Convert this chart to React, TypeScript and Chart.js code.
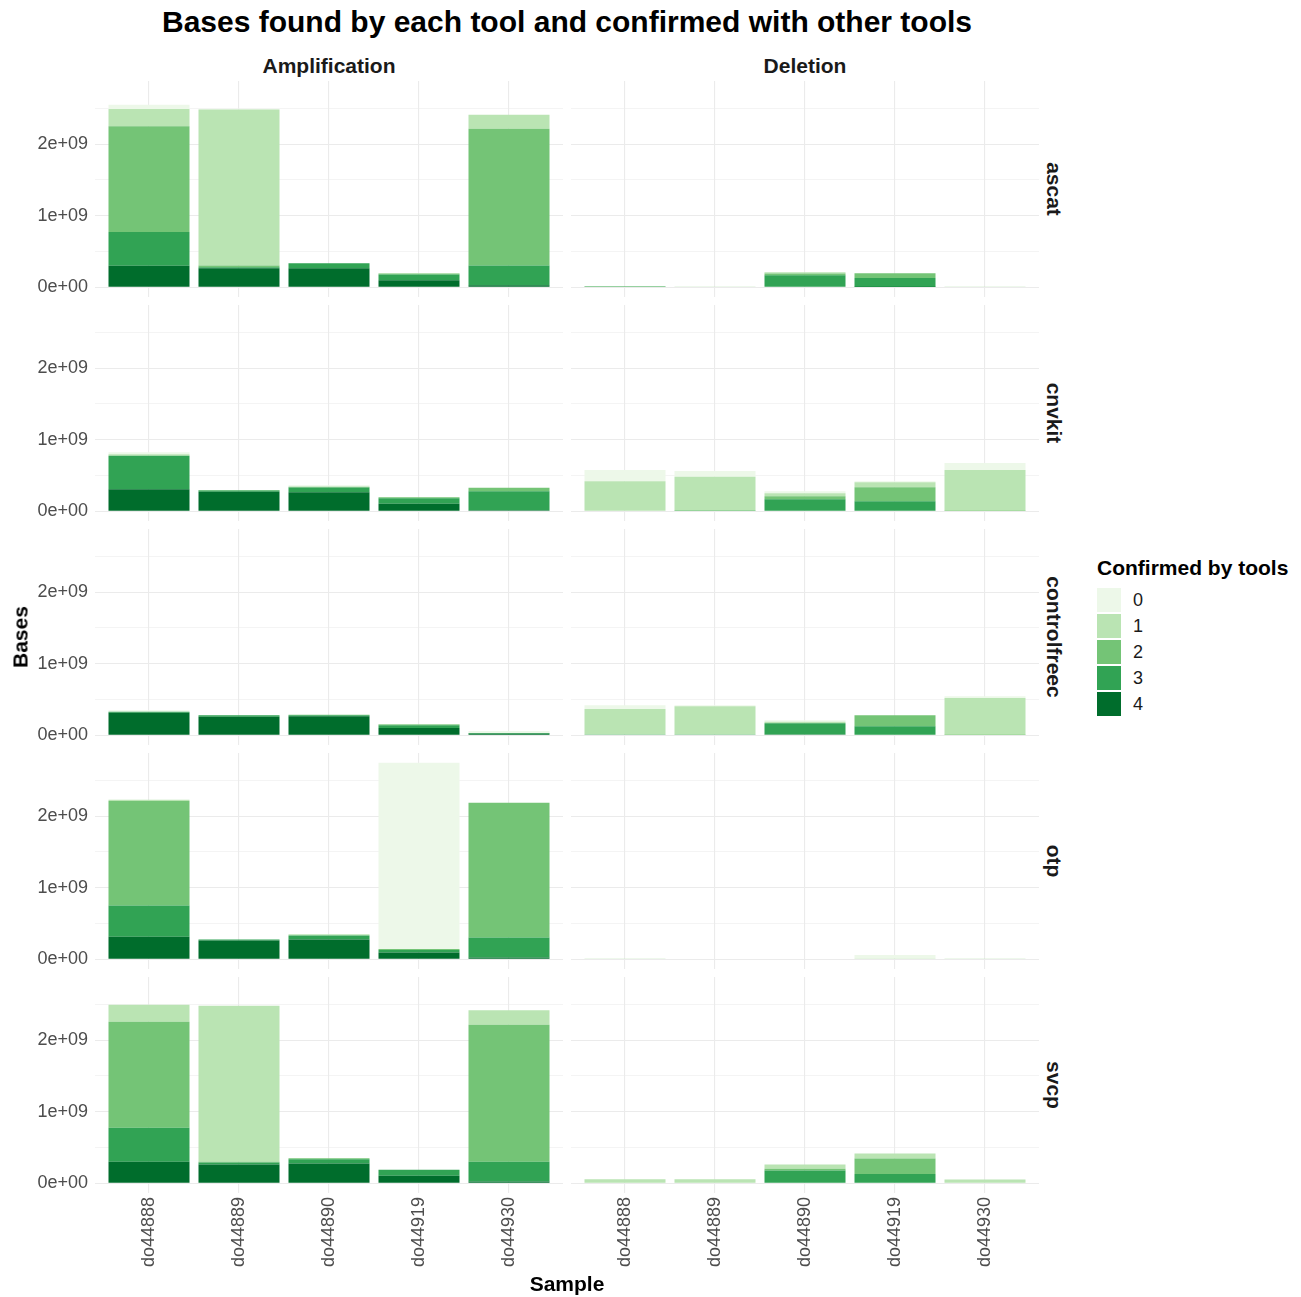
import React, { useEffect, useRef } from "react";
import { Chart, registerables } from "chart.js";

Chart.register(...registerables);

const FONT = "'Liberation Sans', Arial, Helvetica, sans-serif";

// ---------------- data (values in billions of bases, i.e. x 1e9) ----------------
const samples = ["do44888", "do44889", "do44890", "do44919", "do44930"];
const tools = ["ascat", "cnvkit", "controlfreec", "otp", "svcp"];
const eventTypes = ["Amplification", "Deletion"];
const confirmLevels = ["0", "1", "2", "3", "4"];
const levelColors = ["#edf8e9", "#bae4b3", "#74c476", "#31a354", "#006d2c"];
const UNIT = 1e9;

// each matrix: rows = confirmed by 0,1,2,3,4 tools ; columns = samples
const ascatAmplification = [
  [0.06, 0.01, 0, 0, 0],
  [0.24, 2.18, 0, 0.01, 0.196],
  [1.48, 0.024, 0, 0.01, 1.91],
  [0.47, 0.014, 0.07, 0.08, 0.276],
  [0.3, 0.266, 0.266, 0.098, 0.028],
];
const ascatDeletion = [
  [0, 0, 0, 0, 0],
  [0, 0.002, 0.02, 0, 0.008],
  [0.004, 0.006, 0.022, 0.065, 0],
  [0.004, 0, 0.162, 0.126, 0],
  [0, 0, 0.006, 0.002, 0],
];
const cnvkitAmplification = [
  [0.028, 0, 0.022, 0, 0],
  [0.02, 0, 0, 0, 0],
  [0, 0.006, 0.01, 0.014, 0.047],
  [0.468, 0.02, 0.066, 0.079, 0.266],
  [0.308, 0.27, 0.266, 0.103, 0.014],
];
const cnvkitDeletion = [
  [0.155, 0.08, 0.028, 0.014, 0.098],
  [0.415, 0.477, 0.042, 0.07, 0.571],
  [0, 0, 0.042, 0.196, 0.004],
  [0.005, 0.004, 0.163, 0.14, 0],
  [0, 0, 0.005, 0, 0],
];
const controlfreecAmplification = [
  [0.023, 0, 0, 0, 0.03],
  [0, 0, 0, 0.008, 0],
  [0, 0, 0.005, 0.01, 0],
  [0.014, 0.023, 0.014, 0.038, 0.01],
  [0.312, 0.256, 0.265, 0.102, 0.02],
];
const controlfreecDeletion = [
  [0.052, 0.014, 0.023, 0, 0.023],
  [0.357, 0.395, 0.019, 0, 0.518],
  [0, 0, 0, 0.153, 0.003],
  [0.01, 0.01, 0.157, 0.126, 0],
  [0, 0, 0.01, 0, 0],
];
const otpAmplification = [
  [0, 0, 0, 2.6, 0],
  [0.019, 0, 0.019, 0, 0],
  [1.46, 0, 0, 0.014, 1.884],
  [0.437, 0.014, 0.056, 0.037, 0.279],
  [0.312, 0.26, 0.274, 0.093, 0.023],
];
const otpDeletion = [
  [0, 0, 0, 0.05, 0],
  [0.01, 0.007, 0.007, 0.01, 0.01],
  [0, 0, 0, 0, 0],
  [0, 0, 0, 0, 0],
  [0, 0, 0, 0, 0],
];
const svcpAmplification = [
  [0, 0, 0, 0, 0],
  [0.238, 2.182, 0, 0, 0.201],
  [1.482, 0.009, 0.014, 0, 1.916],
  [0.476, 0.028, 0.061, 0.083, 0.275],
  [0.298, 0.261, 0.275, 0.103, 0.023],
];
const svcpDeletion = [
  [0, 0, 0, 0, 0],
  [0.05, 0.05, 0.06, 0.07, 0.05],
  [0.005, 0.005, 0.023, 0.215, 0],
  [0, 0, 0.177, 0.13, 0],
  [0, 0, 0, 0, 0],
];

const panelData = [
  [ascatAmplification, ascatDeletion],
  [cnvkitAmplification, cnvkitDeletion],
  [controlfreecAmplification, controlfreecDeletion],
  [otpAmplification, otpDeletion],
  [svcpAmplification, svcpDeletion],
];

// ---------------- layout ----------------
const PANEL_W = 468;
const PANEL_H = 216;
const ROW_STEP = 224;
const FIRST_TOP = 81;
const COL_LEFT = [95, 571];
const Y_AXIS_W = 95;
const X_AXIS_H = 100;

const GRID = "#ebebeb";
const TICK_COLOR = "#4d4d4d";

// shared y range (ggplot-like 5% expansion), in billions
let maxTotal = 0;
panelData.forEach((row) =>
  row.forEach((m) =>
    samples.forEach((_, s) => {
      const t = m.reduce((acc, lv) => acc + lv[s], 0);
      if (t > maxTotal) maxTotal = t;
    })
  )
);
const Y_MIN = -maxTotal * 0.05;
const Y_MAX = maxTotal * 1.05;

function sci(v: number): string {
  if (Math.abs(v) < 1e-9) return "0e+00";
  const [m, e] = v.toExponential(0).split("e");
  const ei = parseInt(e, 10);
  return `${m}e${ei < 0 ? "-" : "+"}${String(Math.abs(ei)).padStart(2, "0")}`;
}
const isWhole = (v: number) => Math.abs(v - Math.round(v)) < 1e-6;

function Panel({ matrix, showY, showX, left, top }: any) {
  const ref = useRef<HTMLCanvasElement | null>(null);
  const width = PANEL_W + (showY ? Y_AXIS_W : 0);
  const height = PANEL_H + (showX ? X_AXIS_H : 0);

  useEffect(() => {
    if (!ref.current) return;
    const order = [4, 3, 2, 1, 0];
    const datasets = order.map((lv) => ({
      label: confirmLevels[lv],
      data: matrix[lv].map((v: number, i: number) => ({ x: i, y: v })),
      backgroundColor: levelColors[lv],
      borderWidth: 0,
      grouped: false,
      barPercentage: 0.9,
      categoryPercentage: 1,
    }));
    const chart = new Chart(ref.current, {
      type: "bar",
      data: { datasets },
      options: {
        animation: false,
        responsive: false,
        maintainAspectRatio: false,
        devicePixelRatio: 1,
        layout: { padding: 0 },
        plugins: {
          legend: { display: false },
          tooltip: { enabled: false },
          title: { display: false },
        },
        scales: {
          x: {
            type: "linear",
            min: -0.6,
            max: samples.length - 0.4,
            stacked: true,
            offset: false,
            border: { display: false },
            grid: { color: GRID, lineWidth: 1.1, drawTicks: false, offset: false },
            ticks: {
              display: showX,
              stepSize: 1,
              includeBounds: false,
              autoSkip: false,
              minRotation: 90,
              maxRotation: 90,
              padding: 4,
              color: TICK_COLOR,
              font: { family: FONT, size: 18 },
              callback: (v: any) => (isWhole(v) ? samples[Math.round(v)] ?? "" : ""),
            },
            afterFit: (s: any) => {
              s.height = showX ? X_AXIS_H : 0;
              s.paddingLeft = 0;
              s.paddingRight = 0;
              s.paddingTop = 0;
              s.paddingBottom = 0;
            },
          },
          y: {
            type: "linear",
            min: Y_MIN,
            max: Y_MAX,
            stacked: true,
            border: { display: false },
            grid: {
              color: GRID,
              drawTicks: false,
              lineWidth: (ctx: any) => (ctx.tick && !isWhole(ctx.tick.value) ? 0.55 : 1.1),
            },
            ticks: {
              display: showY,
              stepSize: 0.5,
              includeBounds: false,
              padding: 7,
              color: TICK_COLOR,
              font: { family: FONT, size: 18 },
              callback: (v: any) => (isWhole(v) ? sci(v * UNIT) : ""),
            },
            afterFit: (s: any) => {
              s.width = showY ? Y_AXIS_W : 0;
              s.paddingLeft = 0;
              s.paddingRight = 0;
              s.paddingTop = 0;
              s.paddingBottom = 0;
            },
          },
        },
      } as any,
    });
    return () => chart.destroy();
  }, []);

  return (
    <canvas
      ref={ref}
      width={width}
      height={height}
      style={{ position: "absolute", left, top, width, height }}
    />
  );
}

const centered = (cx: number, cy: number, extra: any = {}): any => ({
  position: "absolute",
  left: cx,
  top: cy,
  transform: "translate(-50%, -50%)",
  lineHeight: 1,
  whiteSpace: "nowrap",
  ...extra,
});

export default function App() {
  const plotCenterX = (COL_LEFT[0] + COL_LEFT[1] + PANEL_W) / 2;
  const plotCenterY = (FIRST_TOP + FIRST_TOP + ROW_STEP * (tools.length - 1) + PANEL_H) / 2;
  return (
    <div
      style={{
        position: "absolute",
        left: 0,
        top: 0,
        width: 1301,
        height: 1297,
        background: "#ffffff",
        fontFamily: FONT,
        overflow: "hidden",
      }}
    >
      {panelData.map((row, r) =>
        row.map((m, c) => (
          <Panel
            key={`${r}-${c}`}
            matrix={m}
            showY={c === 0}
            showX={r === tools.length - 1}
            left={c === 0 ? 0 : COL_LEFT[c]}
            top={FIRST_TOP + r * ROW_STEP}
          />
        ))
      )}

      <div style={centered(plotCenterX, 22, { fontSize: 30, fontWeight: "bold", color: "#000" })}>
        Bases found by each tool and confirmed with other tools
      </div>

      {eventTypes.map((t, c) => (
        <div
          key={t}
          style={centered(COL_LEFT[c] + PANEL_W / 2, 65, { fontSize: 21, fontWeight: "bold", color: "#1a1a1a" })}
        >
          {t}
        </div>
      ))}

      {tools.map((t, r) => (
        <div
          key={t}
          style={centered(1054, FIRST_TOP + r * ROW_STEP + PANEL_H / 2, {
            fontSize: 21,
            fontWeight: "bold",
            color: "#1a1a1a",
            transform: "translate(-50%, -50%) rotate(90deg)",
          })}
        >
          {t}
        </div>
      ))}

      <div
        style={centered(20, plotCenterY, {
          fontSize: 21,
          fontWeight: "bold",
          color: "#000",
          transform: "translate(-50%, -50%) rotate(-90deg)",
        })}
      >
        Bases
      </div>
      <div style={centered(plotCenterX, 1283, { fontSize: 21, fontWeight: "bold", color: "#000" })}>
        Sample
      </div>

      <div
        style={{
          position: "absolute",
          left: 1097,
          top: 557,
          fontSize: 21,
          fontWeight: "bold",
          lineHeight: 1,
          whiteSpace: "nowrap",
          color: "#000",
        }}
      >
        Confirmed by tools
      </div>
      {confirmLevels.map((lv, i) => (
        <React.Fragment key={lv}>
          <div
            style={{
              position: "absolute",
              left: 1097,
              top: 588 + i * 26,
              width: 24,
              height: 24,
              background: levelColors[i],
            }}
          />
          <div
            style={{
              position: "absolute",
              left: 1133,
              top: 600 + i * 26,
              transform: "translateY(-50%)",
              fontSize: 18,
              lineHeight: 1,
              color: "#1a1a1a",
            }}
          >
            {lv}
          </div>
        </React.Fragment>
      ))}
    </div>
  );
}
